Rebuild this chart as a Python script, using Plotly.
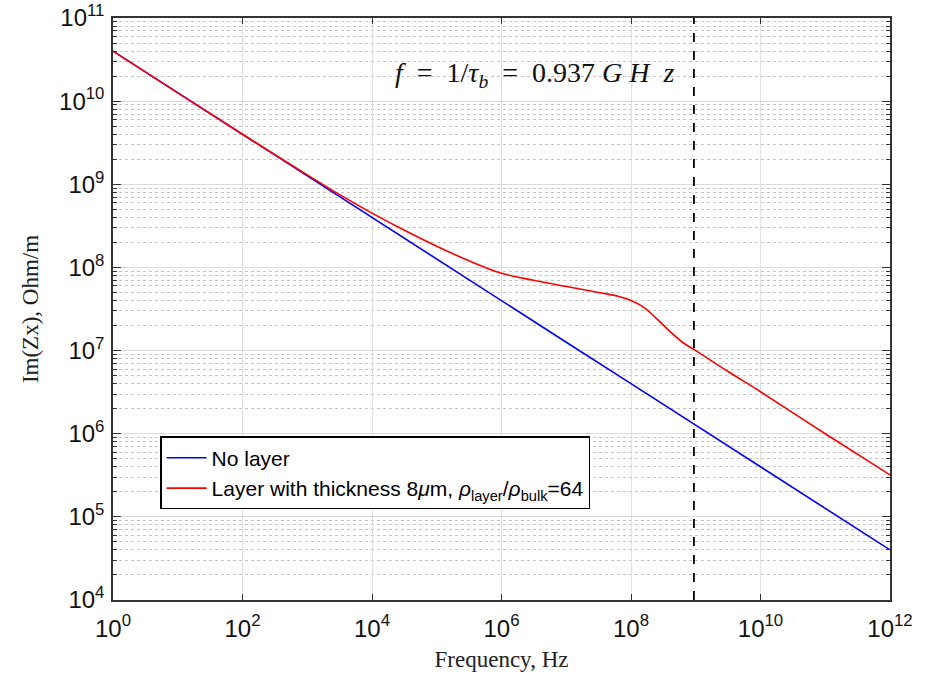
import math
import plotly.graph_objects as go

# ---- data ----
freq_blue = [1e0, 1e1, 1e2, 1e3, 1e4, 1e5, 1e6, 1e7, 1e8, 1e9, 1e10, 1e11, 1e12]
z_blue = [4.0e10, 1.26e10, 4.0e9, 1.26e9, 4.0e8, 1.26e8, 4.0e7, 1.26e7, 4.0e6, 1.26e6, 4.0e5, 1.26e5, 4.0e4]

freq_red = [1e0, 1e1, 1e2, 1e3, 3.16e3, 1e4, 3.16e4, 1e5, 3.16e5, 1e6, 3.16e6, 1e7, 3.16e7,
            6.3e7, 1e8, 1.58e8, 2.51e8, 3.98e8, 6.3e8, 1e9, 3.16e9, 1e10, 1e11, 1e12]
z_red = [4.0e10, 1.26e10, 4.0e9, 1.3e9, 7.5e8, 4.5e8, 2.8e8, 1.8e8, 1.2e8, 8.5e7, 7.0e7, 5.9e7, 5.0e7,
         4.5e7, 4.0e7, 3.3e7, 2.4e7, 1.7e7, 1.25e7, 1.0e7, 5.6e6, 3.2e6, 1.0e6, 3.2e5]

f_tau = 9.37e8
y_range_vals = [1e4, 1e11]
annot_y = 2.1e10

x_tick_vals = [1e0, 1e2, 1e4, 1e6, 1e8, 1e10, 1e12]
x_tick_text = ["10<sup>0</sup>", "10<sup>2</sup>", "10<sup>4</sup>", "10<sup>6</sup>",
               "10<sup>8</sup>", "10<sup>10</sup>", "10<sup>12</sup>"]
y_tick_vals = [1e4, 1e5, 1e6, 1e7, 1e8, 1e9, 1e10, 1e11]
y_tick_text = ["10<sup>4</sup>", "10<sup>5</sup>", "10<sup>6</sup>", "10<sup>7</sup>",
               "10<sup>8</sup>", "10<sup>9</sup>", "10<sup>10</sup>", "10<sup>11</sup>"]
y_minor_vals = [k * 10 ** e for e in range(4, 11) for k in range(2, 10)]

fig = go.Figure()
fig.add_trace(go.Scatter(x=freq_blue, y=z_blue, mode="lines", name="No layer",
                         line=dict(color="#0000ff", width=1.6)))
fig.add_trace(go.Scatter(x=freq_red, y=z_red, mode="lines", line_shape="spline",
                         name="Layer with thickness 8<i>μ</i>m, <i>ρ</i><sub>layer</sub>/<i>ρ</i><sub>bulk</sub>=64",
                         line=dict(color="#ff0000", width=1.6)))
fig.add_trace(go.Scatter(x=[f_tau, f_tau], y=y_range_vals, mode="lines", showlegend=False,
                         line=dict(color="black", width=1.8, dash="dash")))

fig.add_annotation(x=0.36, y=math.log10(annot_y), xref="paper", yref="y",
                   text="<i>f</i>&nbsp; = &nbsp;1/<i>τ</i><sub><i>b</i></sub>&nbsp; = &nbsp;0.937 <i>G H&nbsp; z</i>",
                   showarrow=False, xanchor="left", yanchor="middle",
                   font=dict(family="Liberation Serif", size=28, color="#111"))

fig.update_layout(
    width=930, height=674,
    margin=dict(l=113, r=40, t=18, b=74),
    paper_bgcolor="white", plot_bgcolor="white",
    font=dict(family="Liberation Sans", color="black"),
    legend=dict(x=0.061, y=0.281, xanchor="left", yanchor="top",
                bgcolor="white", bordercolor="black", borderwidth=1.2,
                font=dict(family="Liberation Sans", size=21, color="black"),
                itemwidth=40, tracegroupgap=0),
    xaxis=dict(type="log", range=[0, 12], tickvals=x_tick_vals, ticktext=x_tick_text,
               ticks="inside", ticklen=6, tickcolor="#333", mirror="ticks",
               showline=True, linecolor="#333", linewidth=1.5,
               showgrid=True, gridcolor="#e0e0e0", gridwidth=1,
               tickfont=dict(family="Liberation Sans", size=24, color="#111"),
               ticklabelstandoff=6, automargin=False,
               title=dict(text="Frequency, Hz", font=dict(family="Liberation Serif", size=23, color="#222"),
                          standoff=10),
               zeroline=False),
    yaxis=dict(type="log", range=[4, 11], tickvals=y_tick_vals, ticktext=y_tick_text,
               ticks="inside", ticklen=8, tickcolor="#333", mirror="ticks",
               showline=True, linecolor="#333", linewidth=1.5,
               showgrid=True, gridcolor="#dcdcdc", gridwidth=1,
               minor=dict(tickvals=y_minor_vals, ticks="inside", ticklen=4, tickcolor="#333",
                          showgrid=True, gridcolor="#c4c4c4", griddash="dot", gridwidth=1),
               tickfont=dict(family="Liberation Sans", size=24, color="#111"),
               ticklabelstandoff=2, automargin=False,
               title=dict(text="Im(Zx), Ohm/m", font=dict(family="Liberation Serif", size=23, color="#222"),
                          standoff=14),
               zeroline=False),
)

fig.write_html("out.html")
